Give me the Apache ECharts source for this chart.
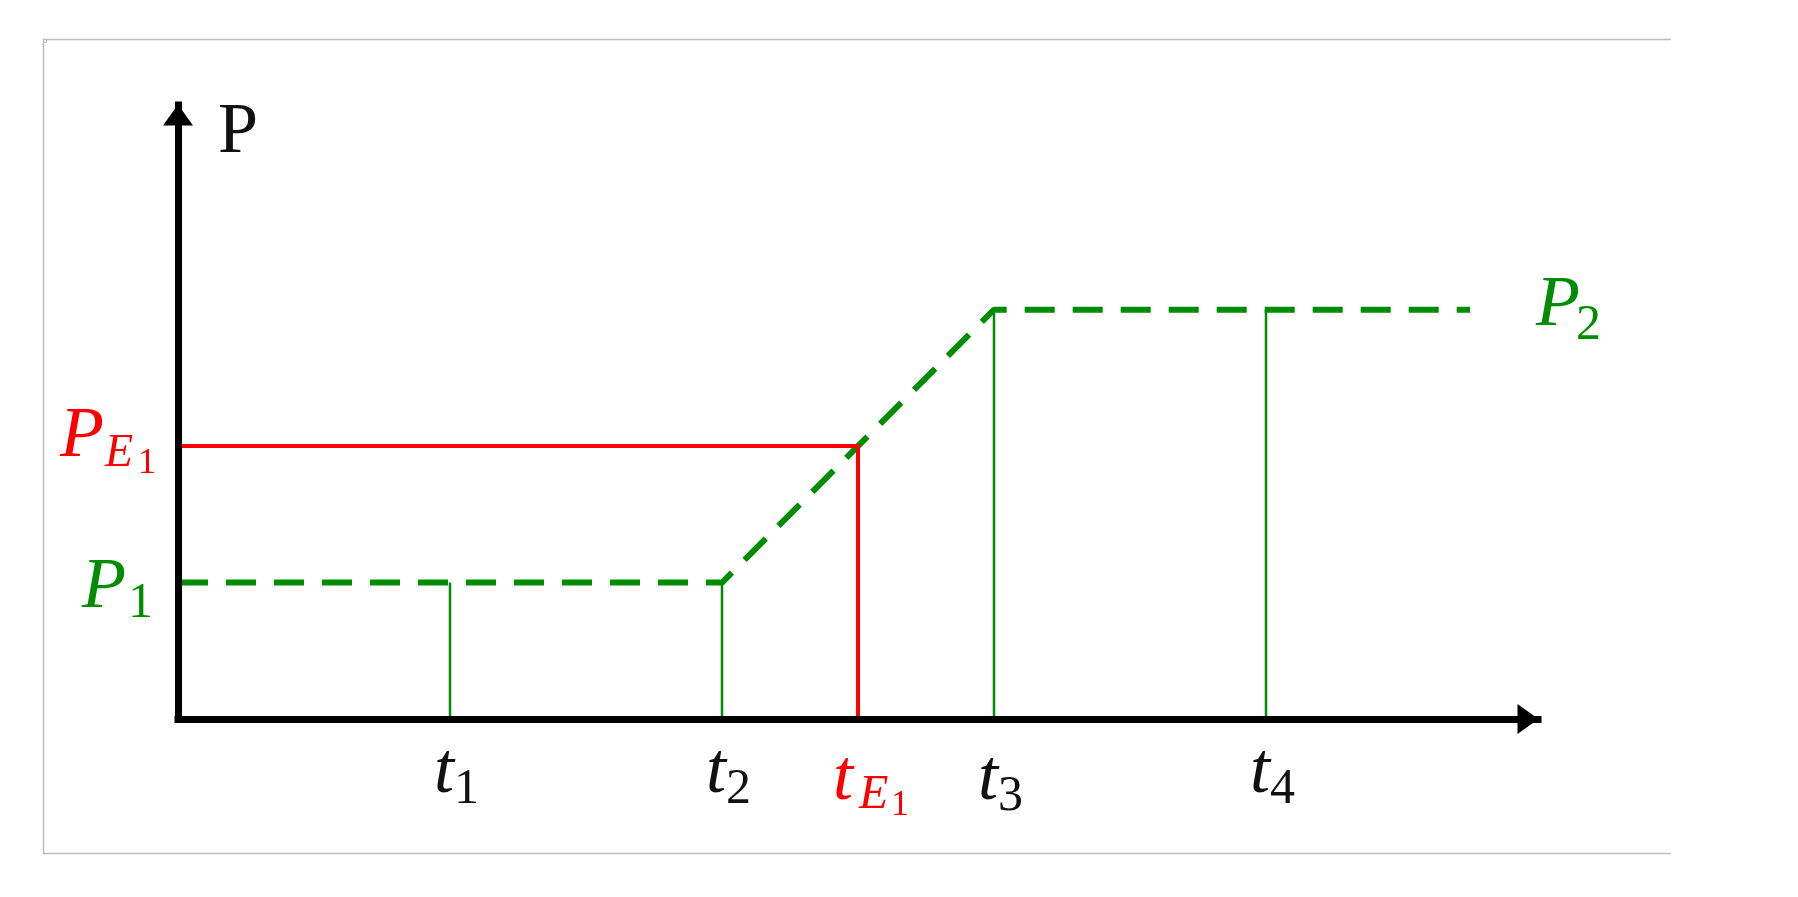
<!DOCTYPE html>
<html><head><meta charset="utf-8">
<script src="https://cdn.jsdelivr.net/npm/echarts@6/dist/echarts.min.js"></script>
<style>html,body{margin:0;padding:0;background:#fff}#c{width:1798px;height:897px}</style>
</head><body><div id="c"></div>
<script>
// ---- data ----
const tickValues = [1, 2, 2.5, 3, 4];
const tickMain = ['t', 't', 't', 't', 't'];
const tickSub = ['1', '2', 'E', '3', '4'];
const tickSub2 = ['', '', '1', '', ''];
const levelNames = ['P1', 'PE1', 'P2'];
const levelValues = [1, 2, 3];
const greenPathX = [0, 2, 3, 4.75];
const greenPathY = [1, 1, 3, 3];
const redPathX = [0, 2.5, 2.5];
const redPathY = [2, 2, 0];
const dropX = [1, 2, 3, 4];
const dropY = [1, 1, 3, 3];
const xMax = 5, yMax = 4.5;
const axisTitle = 'P';

const GREEN = '#008c00', RED = '#ff0000', BLACK = '#111111';
const chart = echarts.init(document.getElementById('c'));

const axisCommon = {
  type: 'value', min: 0, z: 5,
  axisLine: { show: true, onZero: false, symbol: ['none', 'triangle'], symbolSize: [30, 21], symbolOffset: [0, -10],
              lineStyle: { color: '#000', width: 7, cap: 'square' } },
  axisTick: { show: false }, axisLabel: { show: false }, splitLine: { show: false }
};

const series = [];
dropX.forEach((x, i) => {
  series.push({ type: 'line', silent: true, showSymbol: false, symbol: 'none', z: 2,
    lineStyle: { color: GREEN, width: 2.5 }, data: [[x, 0], [x, dropY[i]]] });
});
series.push({ type: 'line', silent: true, showSymbol: false, symbol: 'none', z: 3,
  lineStyle: { color: GREEN, width: 6, type: [30, 18], cap: 'butt' },
  data: greenPathX.map((x, i) => [x, greenPathY[i]]) });
series.push({ type: 'line', silent: true, showSymbol: false, symbol: 'none', z: 4,
  lineStyle: { color: RED, width: 4 },
  data: redPathX.map((x, i) => [x, redPathY[i]]) });

chart.setOption({
  animation: false,
  grid: { left: 178, right: 260, top: 105, bottom: 178, containLabel: false },
  xAxis: Object.assign({}, axisCommon, { max: xMax }),
  yAxis: Object.assign({}, axisCommon, { max: yMax }),
  series: series
});

function px(x, y) { return chart.convertToPixel({ gridIndex: 0 }, [x, y]); }
const g = [];
function txt(x, baseline, text, size, color, italic) {
  g.push({ type: 'text', z: 10, silent: true, x: x, y: baseline - 0.21 * size,
    style: { text: text, fill: color, font: (italic ? 'italic ' : '') + size + 'px "Liberation Serif", serif',
             align: 'left', verticalAlign: 'middle' } });
}
// frame
g.push({ type: 'polyline', silent: true, z: 0, shape: { points: [[1671, 39.5], [43.5, 39.5], [43.5, 853.5], [1671, 853.5]] },
  style: { stroke: '#bdbdbd', lineWidth: 1.5, fill: null } });
g.push({ type: 'rect', silent: true, z: 0, shape: { x: 43.5, y: 39.5, width: 3, height: 3 }, style: { stroke: '#bdbdbd', fill: null, lineWidth: 1 } });

// axis title
const yTop = px(0, yMax);
txt(yTop[0] + 40, yTop[1] + 43, axisTitle, 72, BLACK, false);

// tick labels
tickValues.forEach((v, i) => {
  const p = px(v, 0);
  const isE = tickSub[i] === 'E';
  const color = isE ? RED : BLACK;
  const low = (isE || tickSub[i] === '3') ? 7 : 0;
  if (isE) {
    txt(p[0] - 25, p[1] + 69 + low, tickMain[i], 72, color, true);
    txt(p[0] + 1, p[1] + 86, tickSub[i], 48, color, true);
    txt(p[0] + 33, p[1] + 94, tickSub2[i], 36, color, false);
  } else {
    txt(p[0] - 16, p[1] + 69 + low, tickMain[i], 72, color, true);
    txt(p[0] + 4, p[1] + 81 + low, tickSub[i], 50, color, false);
  }
});

// level labels
const pe = px(0, levelValues[1]);
txt(pe[0] - 118, pe[1] + 6, 'P', 72, RED, true);
txt(pe[0] - 73, pe[1] + 17, 'E', 46, RED, true);
txt(pe[0] - 40, pe[1] + 25, '1', 36, RED, false);
const p1 = px(0, levelValues[0]);
txt(p1[0] - 96, p1[1] + 21, 'P', 72, GREEN, true);
txt(p1[0] - 50, p1[1] + 32, '1', 50, GREEN, false);
const p2 = px(greenPathX[greenPathX.length - 1], levelValues[2]);
txt(p2[0] + 66, p2[1] + 12, 'P', 72, GREEN, true);
txt(p2[0] + 106, p2[1] + 27, '2', 50, GREEN, false);

chart.setOption({ graphic: g });
</script></body></html>
